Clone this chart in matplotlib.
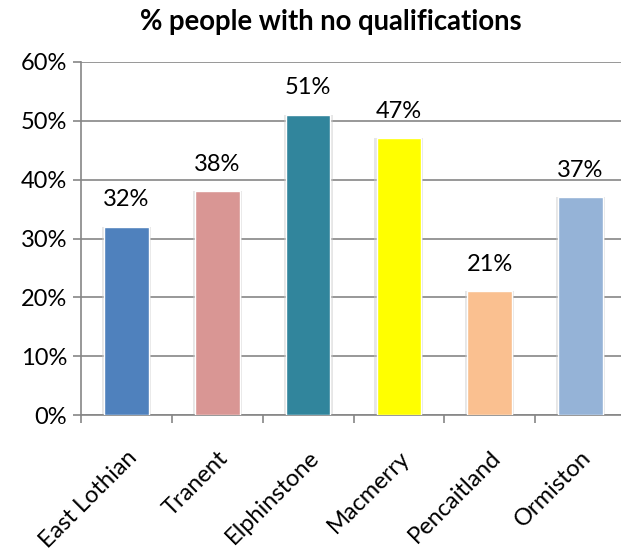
import matplotlib
matplotlib.use("Agg")
import matplotlib.pyplot as plt
from matplotlib.ticker import PercentFormatter

areas = ["East Lothian", "Tranent", "Elphinstone", "Macmerry", "Pencaitland", "Ormiston"]
no_qual_pct = [32, 38, 51, 47, 21, 37]
bar_colors = ["#4F81BD", "#D99694", "#31859C", "#FFFF00", "#FAC090", "#95B3D7"]
y_ticks = [0, 10, 20, 30, 40, 50, 60]

plt.rcParams["font.family"] = ["Lato", "DejaVu Sans"]
grid_gray = "#868686"
fs = 17

fig = plt.figure(figsize=(6.21, 5.48), dpi=100)
ax = fig.add_axes([81 / 621, 133 / 548, 545 / 621, 353 / 548])

x = list(range(len(areas)))
# soft shadow behind each bar
ax.bar(x, no_qual_pct, width=0.54, color="#c8c8c8", alpha=0.45, zorder=2)
ax.bar(x, no_qual_pct, width=0.49, color=bar_colors,
       edgecolor="white", linewidth=1.0, zorder=3)

for xi, v in zip(x, no_qual_pct):
    ax.annotate(f"{v}%", (xi, v), xytext=(0, 12), textcoords="offset points",
                ha="center", va="bottom", fontsize=fs, color="black")

ax.set_xlim(-0.5, len(areas) - 0.5)
ax.set_ylim(0, 60)
ax.set_yticks(y_ticks)
ax.yaxis.set_major_formatter(PercentFormatter(decimals=0))
ax.grid(axis="y", color=grid_gray, linewidth=1.2, zorder=0)
ax.set_axisbelow(True)

for side in ("top", "right"):
    ax.spines[side].set_visible(False)
for side in ("left", "bottom"):
    ax.spines[side].set_color(grid_gray)
    ax.spines[side].set_linewidth(1.2)

ax.set_xticks([i - 0.5 for i in range(len(areas) + 1)], minor=True)
ax.set_xticks(x)
ax.set_xticklabels(areas, rotation=45, ha="right", rotation_mode="anchor", fontsize=fs)
ax.tick_params(axis="x", which="major", length=0, pad=23)
ax.tick_params(axis="x", which="minor", length=6, width=1.2, color=grid_gray)
ax.tick_params(axis="y", length=6, width=1.2, color=grid_gray, labelsize=fs, pad=4)

fig.text(331 / 621, 1 - 22 / 548, "% people with no qualifications",
         ha="center", va="center", fontsize=19.8, fontweight="bold")

fig.savefig("out.png", dpi=100)
